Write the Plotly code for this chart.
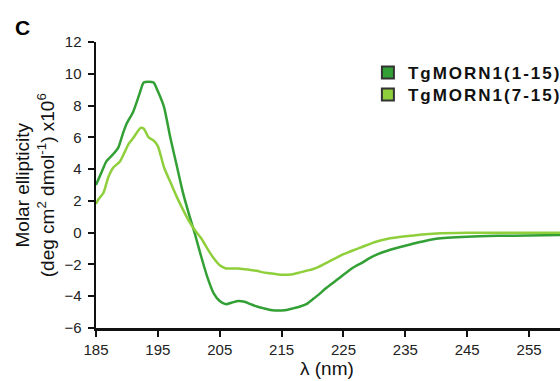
import plotly.graph_objects as go

# Wavelength (nm) and molar ellipticity (x10^6)
wl_1_15 = [185, 186, 186.7, 187.8, 188.6, 189.4, 190, 191, 192, 192.7, 193.5, 194.3, 195, 196, 197, 198, 199,
           200, 201, 202, 203, 204, 205, 206, 207, 208, 209, 210, 211, 212, 213, 214, 215, 216, 217, 218,
           219, 220, 221, 222, 223, 224, 225, 226, 227, 228, 229, 230, 231, 232, 233, 235, 237, 240,
           245, 250, 255, 260]
cd_1_15 = [3.0, 3.9, 4.5, 4.95, 5.35, 6.3, 6.9, 7.6, 8.7, 9.45, 9.5, 9.45, 8.9, 7.9, 6.0, 4.3, 2.6,
           1.2, -0.1, -1.5, -2.8, -3.8, -4.3, -4.5, -4.4, -4.3, -4.35, -4.5, -4.65, -4.75, -4.85, -4.9, -4.9, -4.85, -4.75, -4.65,
           -4.5, -4.2, -3.9, -3.55, -3.25, -2.95, -2.65, -2.35, -2.1, -1.9, -1.65, -1.45, -1.28, -1.15, -1.03, -0.82, -0.62, -0.38,
           -0.25, -0.2, -0.18, -0.15]

wl_7_15 = [185, 185.4, 186.2, 187, 187.8, 188.9, 190.3, 191.1, 192.2, 192.7, 193.5, 194.3, 195, 196, 197, 198, 199,
           200, 201, 202, 203, 204, 205, 206, 207, 208, 209, 210, 211, 212, 213, 214, 215, 216, 217, 218,
           219, 220, 221, 222, 223, 224, 225, 226, 227, 228, 229, 230, 232, 235, 240, 245, 250, 255, 260]
cd_7_15 = [1.8, 2.1, 2.5, 3.5, 4.1, 4.5, 5.6, 6.0, 6.6, 6.55, 6.0, 5.8, 5.45, 4.1, 3.2, 2.3, 1.5,
           0.75, 0.15, -0.35, -1.0, -1.6, -2.05, -2.25, -2.25, -2.25, -2.3, -2.35, -2.4, -2.5, -2.55, -2.6, -2.65, -2.65, -2.6, -2.5,
           -2.4, -2.3, -2.15, -1.95, -1.75, -1.55, -1.35, -1.2, -1.05, -0.9, -0.75, -0.6, -0.4, -0.23, -0.05, 0.0, 0.0, 0.0, 0.0]

series_names = ["TgMORN1(1-15)", "TgMORN1(7-15)"]
x_ticks = [185, 195, 205, 215, 225, 235, 245, 255]
y_ticks = [-6, -4, -2, 0, 2, 4, 6, 8, 10, 12]

dark = "#33a035"
light = "#8fcf3c"
font = "Liberation Sans"
ink = "#111111"

fig = go.Figure()
series = [(wl_1_15, cd_1_15, dark, series_names[0], "legend"),
          (wl_7_15, cd_7_15, light, series_names[1], "legend2")]
for wl, cd, col, name, leg in series:
    fig.add_trace(go.Scatter(x=wl, y=cd, mode="lines", line=dict(color=col, width=2.5, shape="spline", smoothing=0.6),
                             showlegend=False, hoverinfo="skip"))
    fig.add_trace(go.Scatter(x=[None], y=[None], mode="markers", legend=leg,
                             name='<span style="letter-spacing:2px">' + name + '</span>',
                             marker=dict(symbol="square", size=13, color=col, line=dict(color="#333333", width=1))))

axis_common = dict(ticks="outside", ticklen=6, tickwidth=2, tickcolor=ink, showline=True, linecolor=ink,
                   linewidth=2.5, showgrid=False, zeroline=False, automargin=False,
                   tickfont=dict(size=15, color="#222222", family=font))
legend_common = dict(xanchor="left", yanchor="top", bgcolor="rgba(0,0,0,0)",
                     font=dict(size=17, family=font, color=ink, weight="bold"), itemsizing="constant")

fig.update_layout(
    width=560, height=381,
    margin=dict(l=96, r=0, t=42, b=53, autoexpand=False),
    paper_bgcolor="white", plot_bgcolor="white",
    font=dict(family=font, color=ink),
    showlegend=True,
    hovermode=False,
    legend=dict(x=0.586, y=0.955, **legend_common),
    legend2=dict(x=0.586, y=0.878, **legend_common),
    xaxis=dict(range=[185, 260], tickvals=x_ticks, **axis_common),
    yaxis=dict(range=[-6, 12], tickvals=y_ticks, ticklabelstandoff=3, **axis_common),
    annotations=[
        dict(text="<b>C</b>", x=-0.179, y=1.049, xref="paper", yref="paper", xanchor="left", yanchor="middle",
             showarrow=False, font=dict(size=21, color="#000000", family=font)),
        dict(text="Molar ellipticity<br>(deg cm<sup>2</sup> dmol<sup>-1</sup>) x10<sup>6</sup>",
             textangle=-90, x=-0.131, y=0.5, xref="paper", yref="paper", xanchor="center", yanchor="middle",
             showarrow=False, font=dict(size=19, color=ink, family=font)),
        dict(text="λ (nm)", x=0.497, y=-0.143, xref="paper", yref="paper", xanchor="center", yanchor="middle",
             showarrow=False, font=dict(size=19, color=ink, family=font)),
    ],
)

fig.write_html("out.html", config={"displayModeBar": False, "staticPlot": True},
               post_script="document.body.style.margin='0';document.body.style.overflow='hidden';")
